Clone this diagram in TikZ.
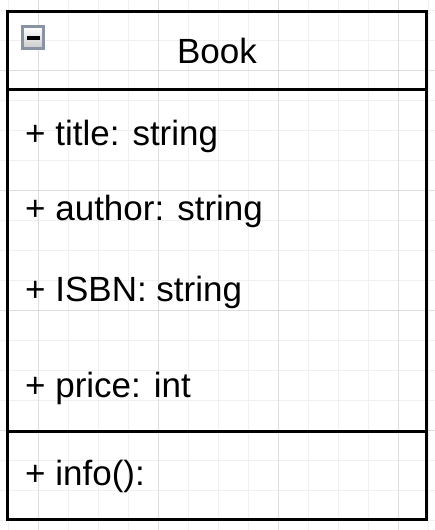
\documentclass[tikz,border=0pt]{standalone}
\usepackage{fontspec}
\setmainfont{Liberation Sans}
\usetikzlibrary{positioning}
\definecolor{gridminor}{RGB}{240,240,240}
\definecolor{gridmajor}{RGB}{222,222,222}
\definecolor{iconframe}{RGB}{138,147,163}
\tikzset{
  member/.style={anchor=base west, inner sep=0pt, font=\fontsize{35}{42}\selectfont},
  classline/.style={line width=3pt, black}
}

\begin{document}
\begin{tikzpicture}[x=1pt, y=-1pt]
  \useasboundingbox (0, 0) rectangle (435, 530);
  % Background grid
  \foreach \g in {8, 38, ..., 428}
    \draw[gridminor, line width=1pt] (\g, 0) -- (\g, 530);
  \foreach \g in {10, 40, ..., 520}
    \draw[gridminor, line width=1pt] (0, \g) -- (435, \g);
  \foreach \g in {38, 158, 278, 398}
    \draw[gridmajor, line width=1pt] (\g, 0) -- (\g, 530);
  \foreach \g in {70, 190, 310, 430}
    \draw[gridmajor, line width=1pt] (0, \g) -- (435, \g);

  % Class box
  \draw[classline] (7.5, 11.5) rectangle (426.5, 519);
  \draw[classline] (7.5, 89) -- (426.5, 89);
  \draw[classline] (7.5, 431) -- (426.5, 431);

  % Collapse icon
  \shade[top color=white, bottom color=gray!40] (22, 26.5) rectangle (43.5, 48);
  \draw[iconframe, line width=3pt] (22, 26.5) rectangle (43.5, 48);
  \draw[black, line width=3.5pt] (27, 38) -- (39.5, 38);

  % Name
  \node[member, anchor=base] (bookname) at (217, 63) {Book};

  % Attributes
  \node[member] (title) at (25, 145) {+ title: string};
  \node[member] (author) at (25, 220) {+ author: string};
  \node[member] (isbn) at (25, 301) {+ ISBN: string};
  \node[member] (price) at (25, 397) {+ price: int};

  % Operations
  \node[member] (info) at (25, 485) {+ info():};
\end{tikzpicture}
\end{document}
